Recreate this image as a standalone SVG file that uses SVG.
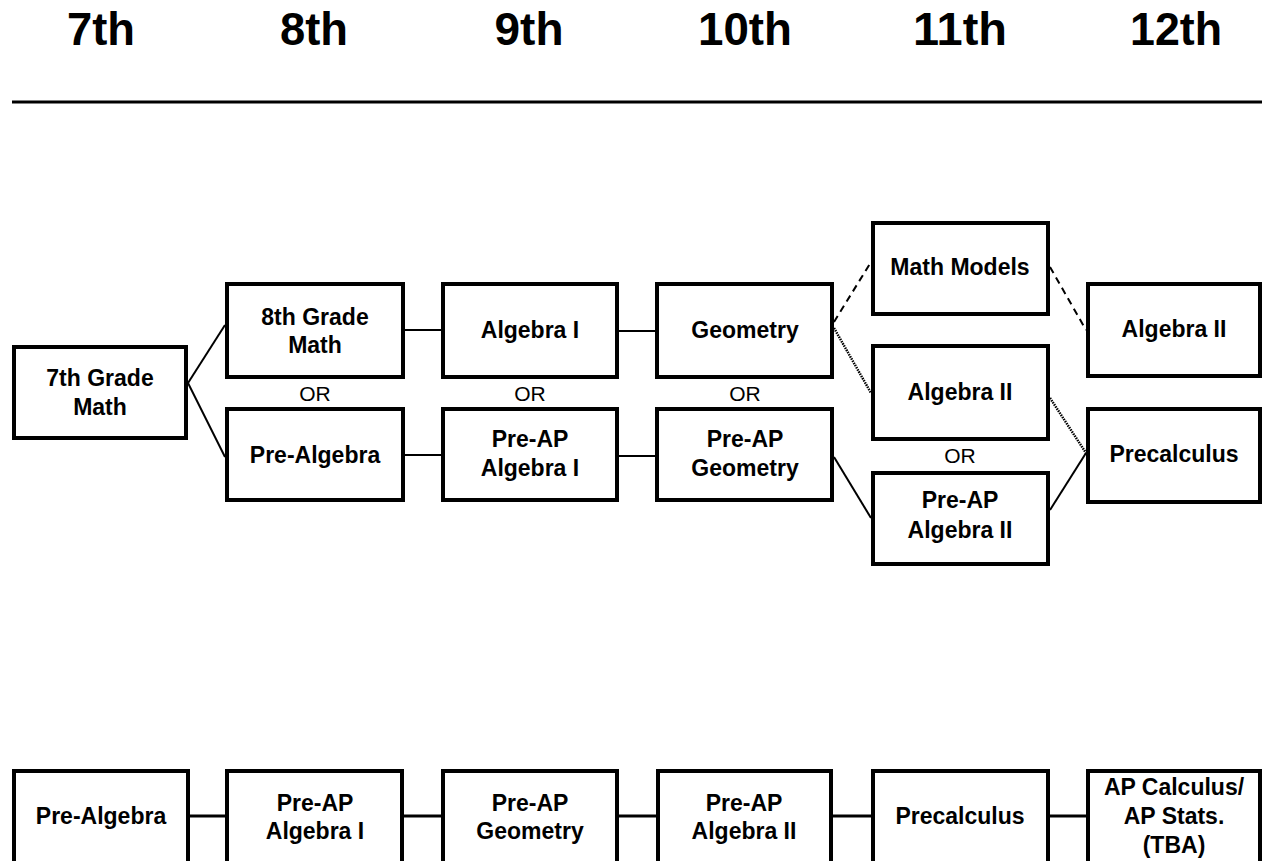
<svg xmlns="http://www.w3.org/2000/svg" width="1262" height="861" viewBox="0 0 1262 861">
<style>
.box{fill:#fff;stroke:#000;stroke-width:4}
.t{font-family:"Liberation Sans",Arial,sans-serif;font-weight:bold;font-size:23px;text-anchor:middle;fill:#000}
.or{font-family:"Liberation Sans",Arial,sans-serif;font-size:21px;text-anchor:middle;fill:#000}
.h{font-family:"Liberation Sans",Arial,sans-serif;font-weight:bold;font-size:47px;text-anchor:middle;fill:#000}
.c{stroke:#000;stroke-width:2;fill:none}
.cb{stroke:#000;stroke-width:3;fill:none}
.dash{stroke-dasharray:7,5}
.dot{stroke-width:2.5;stroke-dasharray:1.5,1}
</style>
<rect width="1262" height="861" fill="#fff"/>
<g id="headers">
<text class="h" x="101" y="45" textLength="68" lengthAdjust="spacingAndGlyphs">7th</text>
<text class="h" x="314" y="45" textLength="68" lengthAdjust="spacingAndGlyphs">8th</text>
<text class="h" x="529" y="45" textLength="69" lengthAdjust="spacingAndGlyphs">9th</text>
<text class="h" x="745" y="45" textLength="94" lengthAdjust="spacingAndGlyphs">10th</text>
<text class="h" x="960" y="45" textLength="94" lengthAdjust="spacingAndGlyphs">11th</text>
<text class="h" x="1176" y="45" textLength="92" lengthAdjust="spacingAndGlyphs">12th</text>
<line x1="12" y1="102" x2="1262" y2="102" stroke="#000" stroke-width="3"/>
</g>
<g id="connectors">
<line class="c" x1="188" y1="383" x2="225" y2="325"/>
<line class="c" x1="188" y1="383" x2="225" y2="457"/>
<line class="c" x1="405" y1="330" x2="441" y2="330"/>
<line class="c" x1="405" y1="455" x2="441" y2="455"/>
<line class="c" x1="619" y1="331" x2="655" y2="331"/>
<line class="c" x1="619" y1="456" x2="655" y2="456"/>
<line class="c dash" x1="834" y1="322" x2="871" y2="262"/>
<line class="c dash" x1="1050" y1="267" x2="1086" y2="330"/>
<line class="c dot" x1="834" y1="328" x2="871" y2="393"/>
<line class="c dot" x1="1050" y1="398" x2="1086" y2="453"/>
<line class="c" x1="834" y1="457" x2="871" y2="518"/>
<line class="c" x1="1050" y1="510" x2="1086" y2="453"/>
<line class="cb" x1="190" y1="816" x2="225" y2="816"/>
<line class="cb" x1="404" y1="816" x2="441" y2="816"/>
<line class="cb" x1="619" y1="816" x2="656" y2="816"/>
<line class="cb" x1="832" y1="816" x2="871" y2="816"/>
<line class="cb" x1="1050" y1="816" x2="1086" y2="816"/>
</g>
<g id="n7math"><rect class="box" x="14" y="347" width="172" height="91"/><text class="t" x="100" y="386">7th Grade</text><text class="t" x="100" y="415">Math</text></g>
<g id="n8math"><rect class="box" x="227" y="284" width="176" height="93"/><text class="t" x="315" y="325">8th Grade</text><text class="t" x="315" y="353">Math</text></g>
<g id="nprealg"><rect class="box" x="227" y="409" width="176" height="91"/><text class="t" x="315" y="463">Pre-Algebra</text></g>
<g id="nalg1"><rect class="box" x="443" y="284" width="174" height="93"/><text class="t" x="530" y="338">Algebra I</text></g>
<g id="npreapalg1"><rect class="box" x="443" y="409" width="174" height="91"/><text class="t" x="530" y="447">Pre-AP</text><text class="t" x="530" y="476">Algebra I</text></g>
<g id="ngeo"><rect class="box" x="657" y="284" width="175" height="93"/><text class="t" x="745" y="338">Geometry</text></g>
<g id="npreapgeo"><rect class="box" x="657" y="409" width="175" height="91"/><text class="t" x="745" y="447">Pre-AP</text><text class="t" x="745" y="476">Geometry</text></g>
<g id="nmathmodels"><rect class="box" x="873" y="223" width="175" height="91"/><text class="t" x="960" y="275">Math Models</text></g>
<g id="nalg2a"><rect class="box" x="873" y="346" width="175" height="93"/><text class="t" x="960" y="400">Algebra II</text></g>
<g id="nor11"><text class="or" x="960" y="463">OR</text></g>
<g id="npreapalg2"><rect class="box" x="873" y="473" width="175" height="91"/><text class="t" x="960" y="508">Pre-AP</text><text class="t" x="960" y="538">Algebra II</text></g>
<g id="nalg2b"><rect class="box" x="1088" y="284" width="172" height="92"/><text class="t" x="1174" y="337">Algebra II</text></g>
<g id="nprecalc"><rect class="box" x="1088" y="409" width="172" height="93"/><text class="t" x="1174" y="462">Precalculus</text></g>
<g id="ors">
<text class="or" x="315" y="401">OR</text>
<text class="or" x="530" y="401">OR</text>
<text class="or" x="745" y="401">OR</text>
</g>
<g id="b1"><rect class="box" x="14" y="771" width="174" height="96"/><text class="t" x="101" y="824">Pre-Algebra</text></g>
<g id="b2"><rect class="box" x="227" y="771" width="175" height="96"/><text class="t" x="315" y="811">Pre-AP</text><text class="t" x="315" y="839">Algebra I</text></g>
<g id="b3"><rect class="box" x="443" y="771" width="174" height="96"/><text class="t" x="530" y="811">Pre-AP</text><text class="t" x="530" y="839">Geometry</text></g>
<g id="b4"><rect class="box" x="658" y="771" width="173" height="96"/><text class="t" x="744" y="811">Pre-AP</text><text class="t" x="744" y="839">Algebra II</text></g>
<g id="b5"><rect class="box" x="873" y="771" width="175" height="96"/><text class="t" x="960" y="824">Precalculus</text></g>
<g id="b6"><rect class="box" x="1088" y="771" width="172" height="96"/><text class="t" x="1174" y="795">AP Calculus/</text><text class="t" x="1174" y="824">AP Stats.</text><text class="t" x="1174" y="853">(TBA)</text></g>
</svg>
